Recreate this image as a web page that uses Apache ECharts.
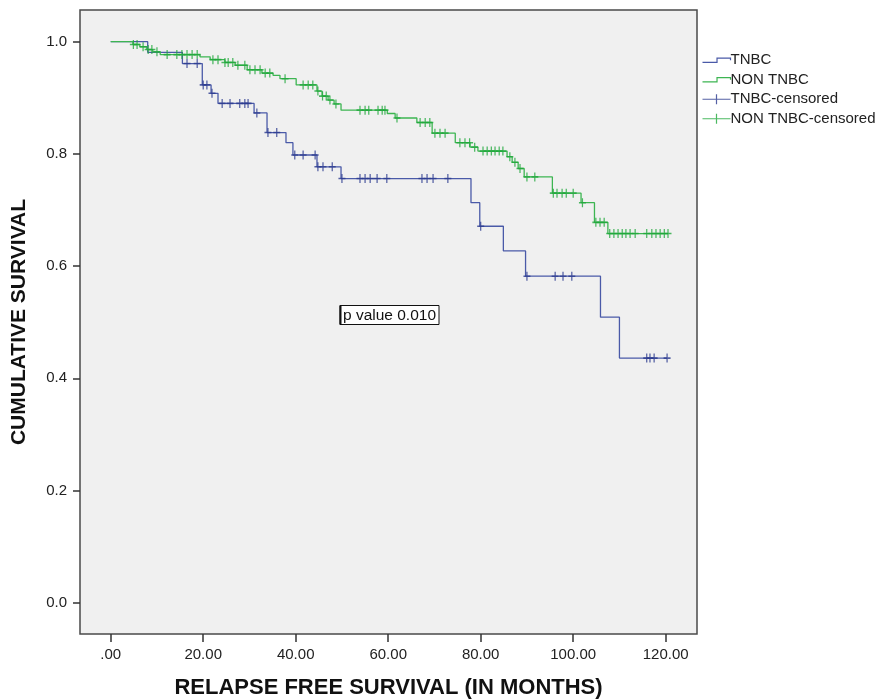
<!DOCTYPE html>
<html>
<head>
<meta charset="utf-8">
<script src="https://cdn.jsdelivr.net/npm/echarts@6/dist/echarts.min.js"></script>
<style>
html,body{margin:0;padding:0;background:#fff;}
#chart{width:888px;height:700px;}
</style>
</head>
<body>
<div id="chart"></div>
<script>
// ---- Data ----
const xTicks = [0, 20, 40, 60, 80, 100, 120];
const yTicks = [0, 0.2, 0.4, 0.6, 0.8, 1.0];

// TNBC: event times and survival after each event
const tnbcTimes = [0, 8.0, 15.5, 19.8, 21.7, 23.2, 31.0, 33.8, 37.9, 39.4, 44.6, 49.8, 77.9, 79.8, 84.9, 89.7, 105.9, 110.0, 120.3];
const tnbcSurv  = [1.0, 0.981, 0.961, 0.923, 0.908, 0.890, 0.873, 0.838, 0.820, 0.798, 0.777, 0.756, 0.713, 0.671, 0.627, 0.582, 0.509, 0.436, 0.436];
const tnbcCensor = [16.5, 18.7, 20.0, 20.8, 21.9, 24.1, 25.8, 27.9, 29.0, 29.7, 31.6, 34.0, 35.9, 39.8, 41.6, 44.2, 44.8, 45.9, 47.9, 50.0, 53.9, 55.0, 56.1, 57.6, 59.7, 67.3, 68.4, 69.7, 72.9, 80.0, 90.0, 96.1, 97.8, 99.7, 115.9, 116.6, 117.5, 120.3];

// NON TNBC
const nonTimes = [0, 4.8, 6.3, 7.8, 9.1, 10.7, 19.3, 21.5, 24.7, 26.9, 29.5, 32.7, 35.1, 36.6, 40.1, 44.6, 45.7, 47.0, 48.3, 49.8, 59.8, 61.5, 66.2, 69.5, 74.5, 77.7, 79.4, 85.7, 86.8, 88.1, 89.4, 95.5, 101.7, 104.6, 107.5, 120.5];
const nonSurv  = [1.0, 0.995, 0.991, 0.986, 0.982, 0.977, 0.973, 0.968, 0.963, 0.958, 0.950, 0.944, 0.940, 0.934, 0.923, 0.912, 0.903, 0.896, 0.889, 0.878, 0.872, 0.864, 0.856, 0.837, 0.820, 0.812, 0.805, 0.795, 0.785, 0.774, 0.759, 0.730, 0.713, 0.678, 0.658, 0.658];
const nonCensor = [4.9, 5.7, 7.0, 8.1, 8.9, 10.0, 12.2, 14.3, 15.4, 16.5, 17.6, 18.7, 22.1, 23.2, 24.7, 25.4, 26.4, 27.5, 29.0, 30.1, 31.2, 32.3, 33.4, 34.4, 37.7, 41.6, 42.7, 43.7, 44.8, 45.8, 46.6, 47.4, 48.7, 53.9, 55.0, 55.8, 57.8, 58.7, 59.3, 61.9, 66.9, 68.0, 69.0, 70.1, 71.2, 72.3, 75.5, 76.6, 77.6, 78.7, 80.5, 81.4, 82.3, 83.1, 84.0, 84.8, 86.3, 87.4, 88.5, 90.0, 91.7, 95.7, 96.5, 97.6, 98.5, 100.0, 102.0, 104.9, 105.8, 106.7, 107.9, 108.8, 109.7, 110.6, 111.4, 112.3, 113.4, 115.9, 117.0, 117.9, 118.8, 119.7, 120.5];

const seriesNames = ['TNBC', 'NON TNBC', 'TNBC-censored', 'NON TNBC-censored'];

// ---- Styling ----
const FONT = '"Liberation Sans", Arial, sans-serif';
const blueLine = '#4a5aa8', blueMark = '#2b3a8f';
const greenLine = '#3db552', greenMark = '#1fa83b';

function pairs(ts, vs) { return ts.map((t, i) => [t, vs[i]]); }
function survAt(ts, vs, t) {
  let v = vs[0];
  for (let i = 0; i < ts.length; i++) { if (ts[i] <= t) v = vs[i]; }
  return v;
}
function censorData(cs, ts, vs) { return cs.map(t => [t, survAt(ts, vs, t)]); }

const plusPath = 'path://M0,4.5L7,4.5M3.5,0L3.5,9';
const stepIcon = 'path://M0,4L14,4L14,0L27,0L27,2';
const plusIcon = 'path://M0,5L28,5M14,0L14,10';

const chart = echarts.init(document.getElementById('chart'), null, {renderer: 'canvas'});
chart.setOption({
  animation: false,
  backgroundColor: '#ffffff',
  textStyle: {fontFamily: FONT},
  grid: {
    left: 80, top: 10, width: 617, height: 624,
    show: true, backgroundColor: '#f0f0f0', borderColor: '#4a4a4a', borderWidth: 1.5,
    containLabel: false, outerBoundsMode: 'none'
  },
  xAxis: {
    type: 'value', min: -6.64, max: 126.77,
    name: 'RELAPSE FREE SURVIVAL (IN MONTHS)', nameLocation: 'middle', nameGap: 43,
    nameTextStyle: {fontFamily: FONT, fontSize: 22, fontWeight: 'bold', color: '#111'},
    axisLine: {show: false, onZero: false},
    axisTick: {show: true, inside: false, length: 8, lineStyle: {color: '#333', width: 1.5}, customValues: xTicks},
    axisLabel: {show: true, margin: 13, fontSize: 15, color: '#222', fontFamily: FONT, customValues: xTicks,
      formatter: v => (v === 0 ? '.00' : v.toFixed(2))},
    splitLine: {show: false}
  },
  yAxis: {
    type: 'value', min: -0.0558, max: 1.0565,
    name: 'CUMULATIVE SURVIVAL', nameLocation: 'middle', nameGap: 50, nameRotate: 90,
    nameTextStyle: {fontFamily: FONT, fontSize: 21, fontWeight: 'bold', color: '#111'},
    axisLine: {show: false, onZero: false},
    axisTick: {show: true, inside: false, length: 7, lineStyle: {color: '#333', width: 1.5}, customValues: yTicks},
    axisLabel: {show: true, margin: 13, fontSize: 15, color: '#222', fontFamily: FONT, customValues: yTicks,
      formatter: v => v.toFixed(1)},
    splitLine: {show: false}
  },
  legend: {
    orient: 'vertical', left: 700, top: 52, padding: 0,
    itemWidth: 28, itemHeight: 10, itemGap: 3,
    textStyle: {fontFamily: FONT, fontSize: 15, color: '#222', lineHeight: 16.5, padding: [0, 0, 0, -5]},
    selectedMode: false,
    data: [
      {name: seriesNames[0], icon: stepIcon, itemStyle: {color: 'none', borderColor: blueLine, borderWidth: 1.2}},
      {name: seriesNames[1], icon: stepIcon, itemStyle: {color: 'none', borderColor: greenLine, borderWidth: 1.2}},
      {name: seriesNames[2], icon: plusIcon, itemStyle: {color: 'none', borderColor: blueMark, borderWidth: 1.2}},
      {name: seriesNames[3], icon: plusIcon, itemStyle: {color: 'none', borderColor: greenMark, borderWidth: 1.2}}
    ]
  },
  series: [
    {
      name: seriesNames[0], type: 'line', step: 'end', showSymbol: false, symbol: 'none',
      data: pairs(tnbcTimes, tnbcSurv), color: blueLine,
      lineStyle: {color: blueLine, width: 1.3}, z: 2
    },
    {
      name: seriesNames[1], type: 'line', step: 'end', showSymbol: false, symbol: 'none',
      data: pairs(nonTimes, nonSurv), color: greenLine,
      lineStyle: {color: greenLine, width: 1.3}, z: 2
    },
    {
      name: seriesNames[2], type: 'scatter', symbol: plusPath, symbolSize: [7, 9],
      data: censorData(tnbcCensor, tnbcTimes, tnbcSurv), color: blueMark,
      itemStyle: {color: 'none', borderColor: blueMark, borderWidth: 1.4}, z: 3
    },
    {
      name: seriesNames[3], type: 'scatter', symbol: plusPath, symbolSize: [7, 9],
      data: censorData(nonCensor, nonTimes, nonSurv), color: greenMark,
      itemStyle: {color: 'none', borderColor: greenMark, borderWidth: 1.4}, z: 3
    }
  ],
  graphic: [
    {
      type: 'group', left: 338, top: 303, z: 10,
      children: [
        {type: 'rect', shape: {x: 0.5, y: 0.5, width: 99, height: 19}, style: {fill: '#ffffff', stroke: '#111', lineWidth: 1}},
        {type: 'line', shape: {x1: 1, y1: 0.5, x2: 1, y2: 19.5}, style: {stroke: '#111', lineWidth: 2}},
        {type: 'text', x: 50, y: 10.5, style: {text: 'p value 0.010', fontFamily: FONT, fontSize: 15.5, fill: '#111', align: 'center', verticalAlign: 'middle'}}
      ]
    }
  ]
});
</script>
</body>
</html>
